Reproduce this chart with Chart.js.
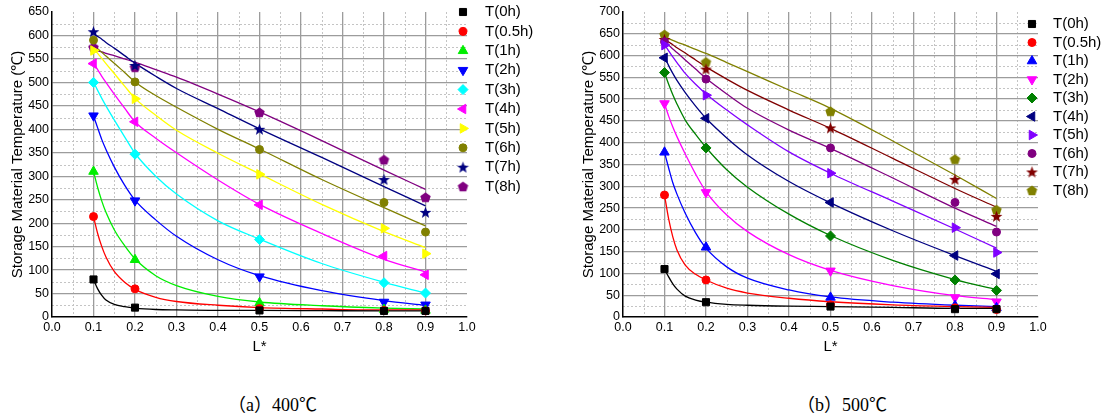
<!DOCTYPE html>
<html><head><meta charset="utf-8">
<script src="https://cdn.jsdelivr.net/npm/chart.js@4.4.1/dist/chart.umd.min.js"></script>
<style>
html,body{margin:0;padding:0;background:#fff;width:1107px;height:420px;overflow:hidden;position:relative}
canvas{position:absolute;top:0}
#ca{left:0}
#cb{left:553px}
.cap{position:absolute;top:392px;line-height:22px;font-family:"Liberation Serif",serif;font-size:18px;color:#000;white-space:nowrap}
.cap .cj{font-family:"Noto Sans CJK SC",sans-serif;font-size:18px}
</style></head><body>
<canvas id="ca" width="553" height="360"></canvas>
<canvas id="cb" width="554" height="360"></canvas>
<div class="cap" style="left:228px"><span class="cj">（</span>a<span class="cj">）</span>400<span class="cj">℃</span></div>
<div class="cap" style="left:797px"><span class="cj">（</span>b<span class="cj">）</span>500<span class="cj">℃</span></div>
<script>
// ---------- data ----------
const seriesNames = ['T(0h)','T(0.5h)','T(1h)','T(2h)','T(3h)','T(4h)','T(5h)','T(6h)','T(7h)','T(8h)'];
const pointX = [0.1, 0.2, 0.5, 0.8, 0.9];
const curveX = [0.1, 0.11, 0.12, 0.13, 0.15, 0.175, 0.2, 0.25, 0.3, 0.4, 0.5, 0.65, 0.8, 0.9];

// (a) 400℃ measured points
const pointsA = [
  [80, 20, 14, 13, 13],
  [214, 60, 18, 14, 13],
  [310, 122, 30, 16, 14],
  [429, 248, 86, 32, 26],
  [500, 347, 165, 73, 51],
  [540, 416, 239, 130, 90],
  [568, 465, 304, 189, 135],
  [590, 501, 357, 244, 181],
  [608, 536, 400, 293, 223],
  [575, 532, 436, 335, 255]
];
// (a) 400℃ fitted curves
const curvesA = [
  [80, 60, 46, 36, 27, 22, 19, 16, 15, 14, 14, 13.5, 13, 13],
  [214, 178, 150, 128, 97, 74, 59, 42, 33, 25, 20, 17, 15, 15],
  [310, 276, 247, 223, 186, 152, 124, 88, 67, 44, 32, 24, 19, 17],
  [429, 403, 378, 357, 320, 281, 249, 207, 172, 122, 88, 56, 35, 25],
  [501, 483, 466, 450, 420, 384, 349, 300, 262, 205, 166, 114, 74, 51],
  [541, 527, 513, 500, 475, 445, 416, 381, 350, 292, 240, 178, 123, 96],
  [573, 562, 551, 540, 519, 492, 466, 430, 398, 349, 305, 240, 182, 148],
  [581, 572, 564, 556, 541, 521, 501, 472, 447, 400, 358, 293, 233, 194],
  [604, 598, 592, 585, 573, 557, 541, 513, 487, 444, 401, 340, 278, 237],
  [570, 567, 565, 562, 557, 550, 543, 527, 511, 475, 437, 376, 313, 272]
];
// (b) 500℃ measured points
const pointsB = [
  [110, 34, 24, 18, 18],
  [280, 85, 28, 21, 17],
  [378, 160, 45, 26, 21],
  [490, 286, 106, 45, 35],
  [561, 388, 186, 85, 61],
  [595, 456, 263, 141, 99],
  [624, 509, 330, 205, 148],
  [632, 546, 388, 263, 195],
  [637, 569, 434, 316, 231],
  [648, 585, 472, 362, 246]
];
// (b) 500℃ fitted curves
const curvesB = [
  [110, 92, 76, 64, 48, 39, 34, 29, 27, 25, 24, 22, 20, 20],
  [280, 225, 184, 154, 119, 98, 85, 66, 55, 43, 35, 28, 24, 22],
  [378, 342, 308, 282, 238, 193, 158, 115, 89, 62, 46, 34, 27, 24],
  [490, 461, 436, 414, 374, 328, 288, 234, 196, 143, 107, 72, 49, 40],
  [561, 534, 510, 489, 452, 419, 389, 338, 298, 236, 187, 130, 86, 63],
  [597, 577, 559, 543, 515, 484, 456, 411, 372, 311, 262, 198, 141, 105],
  [625, 611, 597, 584, 559, 534, 512, 475, 441, 379, 330, 266, 202, 158],
  [632, 624, 615, 607, 590, 569, 548, 512, 479, 429, 387, 319, 250, 208],
  [637, 631, 625, 618, 606, 590, 574, 546, 520, 475, 433, 364, 295, 252],
  [643, 639, 635, 631, 624, 614, 605, 584, 563, 521, 479, 404, 326, 272]
];
const colorsA = ['#000000','#ff0000','#00ee00','#0000ff','#00ffff','#ff00ff','#ffff00','#808000','#000080','#800080'];
const colorsB = ['#000000','#ff0000','#0000ff','#ff00ff','#008000','#000080','#8000ff','#800080','#800000','#808000'];
const markerKinds = ['rect','circle','triangle','triangleDown','rectRot','triangleLeft','triangleRight','circle','star5','pentagon'];
const yMaxA = 650, yMaxB = 700, yStep = 50;

// ---------- helpers ----------
function shapeCanvas(kind, color){
  const c = document.createElement('canvas');
  c.width = 13; c.height = 13;
  const g = c.getContext('2d');
  g.fillStyle = color;
  g.beginPath();
  const cx = 6.5, cy = 6.5;
  if (kind === 'star5'){
    for (let i=0;i<10;i++){
      const r = i%2===0 ? 6.2 : 2.6;
      const a = -Math.PI/2 + i*Math.PI/5;
      const px = cx + r*Math.cos(a), py = cy + 0.5 + r*Math.sin(a);
      i===0 ? g.moveTo(px,py) : g.lineTo(px,py);
    }
  } else {
    for (let i=0;i<5;i++){
      const a = -Math.PI/2 + i*2*Math.PI/5;
      const px = cx + 5.5*Math.cos(a), py = cy + 0.4 + 5.5*Math.sin(a);
      i===0 ? g.moveTo(px,py) : g.lineTo(px,py);
    }
  }
  g.closePath(); g.fill();
  return c;
}
function markerOpts(kind, color){
  switch(kind){
    case 'rect': return {pointStyle:'rect', rotation:0, radius:5};
    case 'circle': return {pointStyle:'circle', rotation:0, radius:4};
    case 'triangle': return {pointStyle:'triangle', rotation:0, radius:5.5};
    case 'triangleDown': return {pointStyle:'triangle', rotation:180, radius:5.5};
    case 'triangleLeft': return {pointStyle:'triangle', rotation:-90, radius:5.5};
    case 'triangleRight': return {pointStyle:'triangle', rotation:90, radius:5.5};
    case 'rectRot': return {pointStyle:'rectRot', rotation:0, radius:5};
    default: return {pointStyle:shapeCanvas(kind,color), rotation:0, radius:6};
  }
}
const FONT = '"Liberation Sans", Arial, sans-serif';

const minorGrid = {
  id:'minorGrid',
  beforeDraw(chart, args, opts){
    const {ctx, chartArea:a, scales:{x,y}} = chart;
    ctx.save();
    ctx.strokeStyle = '#c4c4c4'; ctx.lineWidth = 1; ctx.setLineDash([2,2]);
    opts.xs.forEach(v=>{const p=Math.round(x.getPixelForValue(v))+0.5; ctx.beginPath(); ctx.moveTo(p,a.top); ctx.lineTo(p,a.bottom); ctx.stroke();});
    opts.ys.forEach(v=>{const p=Math.round(y.getPixelForValue(v))+0.5; ctx.beginPath(); ctx.moveTo(a.left,p); ctx.lineTo(a.right,p); ctx.stroke();});
    ctx.restore();
  }
};
const sideLegend = {
  id:'sideLegend',
  afterDraw(chart, args, opts){
    const ctx = chart.ctx;
    const pts = chart.data.datasets.filter(d=>d.isPoints);
    ctx.save();
    pts.forEach((d,i)=>{
      const y = opts.y0 + i*opts.dy;
      ctx.fillStyle = d.backgroundColor; ctx.strokeStyle = d.borderColor; ctx.lineWidth = 1;
      if (Chart.helpers && Chart.helpers.drawPoint){
        Chart.helpers.drawPoint(ctx, {pointStyle:d.pointStyle, rotation:d.pointRotation, radius:d.pointRadius, borderWidth:1}, opts.x, y);
      }
      ctx.fillStyle = '#000'; ctx.font = '15px ' + FONT; ctx.textBaseline = 'middle'; ctx.textAlign = 'left';
      ctx.fillText(d.label, opts.tx, y);
    });
    ctx.restore();
  }
};

function build(id, points, curves, colors, yMax, yAxisW, padRight, titlePad, legend){
  const datasets = [];
  seriesNames.forEach((name,i)=>{
    const m = markerOpts(markerKinds[i], colors[i]);
    datasets.push({
      label:name, isPoints:true, order:1, showLine:false,
      data: pointX.map((x,j)=>({x, y:points[i][j]})),
      pointStyle:m.pointStyle, pointRotation:m.rotation, pointRadius:m.radius, pointHoverRadius:m.radius,
      backgroundColor:colors[i], borderColor:colors[i], pointBorderWidth:1
    });
  });
  seriesNames.forEach((name,i)=>{
    datasets.push({
      label:name+' fit', order:2, showLine:true, fill:false,
      data: curveX.map((x,j)=>({x, y:curves[i][j]})),
      borderColor:colors[i], backgroundColor:colors[i], borderWidth:1.3,
      pointRadius:0, cubicInterpolationMode:'monotone'
    });
  });
  const minorXs = [], minorYs = [];
  for (let k=0;k<10;k++) minorXs.push(+(0.05+0.1*k).toFixed(2));
  for (let v=25; v<yMax; v+=50) minorYs.push(v);
  return new Chart(document.getElementById(id), {
    type:'scatter',
    data:{datasets},
    options:{
      responsive:false, animation:false, devicePixelRatio:1,
      layout:{padding:{left:0, right:padRight, top:12, bottom:0}},
      plugins:{legend:{display:false}, tooltip:{enabled:false},
        minorGrid:{xs:minorXs, ys:minorYs}, sideLegend:legend},
      scales:{
        x:{type:'linear', min:0, max:1,
          afterFit:s=>{s.height=43;},
          ticks:{stepSize:0.1, autoSkip:false, maxRotation:0, padding:3, color:'#000', font:{family:FONT,size:12.5},
            callback:v=>Number(v).toFixed(1)},
          grid:{drawTicks:false, lineWidth:1.3, color:c=>(c.tick && (Math.abs(c.tick.value-1)<1e-6 || Math.abs(c.tick.value)<1e-6)) ? 'rgba(0,0,0,0)' : '#9c9c9c'},
          border:{color:'#000', width:1.5},
          title:{display:true, text:'L*', color:'#000', font:{family:FONT,size:15}, padding:{top:0,bottom:4}}
        },
        y:{min:0, max:yMax,
          afterFit:s=>{s.width=yAxisW;},
          ticks:{stepSize:yStep, padding:3, color:'#000', font:{family:FONT,size:12.5}},
          grid:{drawTicks:false, lineWidth:1.3, color:c=>(c.tick && (c.tick.value===yMax || c.tick.value===0)) ? 'rgba(0,0,0,0)' : '#9c9c9c'},
          border:{color:'#000', width:1.5},
          title:{display:true, text:'Storage Material Temperature (℃)', color:'#000', font:{family:FONT,size:15}, padding:{top:titlePad,bottom:0}}
        }
      }
    },
    plugins:[minorGrid, sideLegend]
  });
}
build('ca', pointsA, curvesA, colorsA, yMaxA, 52, 86, 9, {x:463, y0:12, dy:19.4, tx:485});
build('cb', pointsB, curvesB, colorsB, yMaxB, 70, 69, 27, {x:479, y0:24, dy:18.5, tx:500});
</script>
</body></html>
